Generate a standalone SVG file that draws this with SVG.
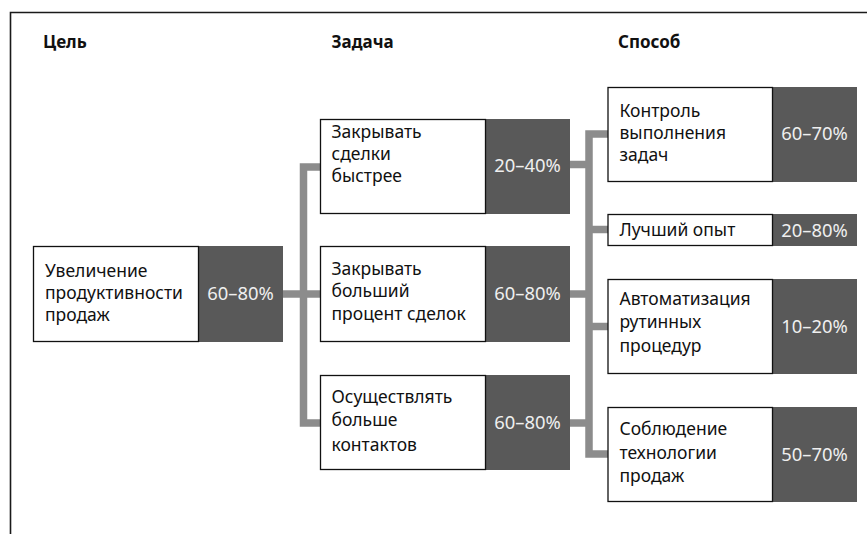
<svg xmlns="http://www.w3.org/2000/svg" width="867" height="534" viewBox="0 0 867 534">
<style>
text{font-family:"Noto Sans","Open Sans","DejaVu Sans",sans-serif;font-size:17.5px;fill:#111}
.h{font-weight:bold;font-size:17px}
.p{fill:#efefef;text-anchor:middle;font-size:18.4px}
.w{fill:#fff;stroke:#111;stroke-width:1.3}
.d{fill:#595959}
.c{fill:none;stroke:#8c8c8c;stroke-width:7.5;stroke-linejoin:miter}
.f{fill:none;stroke:#1a1a1a;stroke-width:1.6}
</style>
<rect width="867" height="534" fill="#fff"/>
<path class="f" d="M10.5 534 V12.5 H867"/>
<g id="headers">
<text class="h" x="43" y="48">Цель</text>
<text class="h" x="331.5" y="48">Задача</text>
<text class="h" x="618" y="48">Способ</text>
</g>
<g id="connectors">
<path class="c" d="M283 294 H320"/>
<path class="c" d="M320 167 H303.5 V423 H320"/>
<path class="c" d="M570 164.5 H589"/>
<path class="c" d="M570 294 H589"/>
<path class="c" d="M570 423 H589"/>
<path class="c" d="M608 134 H589 V454 H608"/>
<path class="c" d="M589 229.5 H608"/>
<path class="c" d="M589 326.5 H608"/>
</g>
<g id="goal">
<rect class="d" x="198" y="246" width="85" height="96"/>
<rect class="w" x="33.5" y="246.5" width="165" height="95"/>
<text x="45" y="276.5">Увеличение</text>
<text x="45" y="298.5">продуктивности</text>
<text x="45" y="320.5">продаж</text>
<text class="p" x="240.5" y="299.5">60–80%</text>
</g>
<g id="task1">
<rect class="d" x="485" y="119" width="85" height="95"/>
<rect class="w" x="320.5" y="119.5" width="165" height="94"/>
<text x="331.5" y="137.5">Закрывать</text>
<text x="331.5" y="159.5">сделки</text>
<text x="331.5" y="181.5">быстрее</text>
<text class="p" x="527.5" y="171.5">20–40%</text>
</g>
<g id="task2">
<rect class="d" x="485" y="246" width="85" height="96"/>
<rect class="w" x="320.5" y="246.5" width="165" height="95"/>
<text x="331.5" y="275">Закрывать</text>
<text x="331.5" y="297">больший</text>
<text x="331.5" y="320">процент сделок</text>
<text class="p" x="527.5" y="299.5">60–80%</text>
</g>
<g id="task3">
<rect class="d" x="485" y="375" width="85" height="95"/>
<rect class="w" x="320.5" y="375.5" width="165" height="94"/>
<text x="331.5" y="403">Осуществлять</text>
<text x="331.5" y="425.5">больше</text>
<text x="331.5" y="450.5">контактов</text>
<text class="p" x="527.5" y="428.5">60–80%</text>
</g>
<g id="way1">
<rect class="d" x="772" y="87" width="85" height="95"/>
<rect class="w" x="608" y="87.5" width="164.5" height="94"/>
<text x="619.5" y="116.5">Контроль</text>
<text x="619.5" y="138.5">выполнения</text>
<text x="619.5" y="160.5">задач</text>
<text class="p" x="814.5" y="139.5">60–70%</text>
</g>
<g id="way2">
<rect class="d" x="772" y="214" width="85" height="32"/>
<rect class="w" x="608" y="214.5" width="164.5" height="31"/>
<text x="619.5" y="236">Лучший опыт</text>
<text class="p" x="814.5" y="236.5">20–80%</text>
</g>
<g id="way3">
<rect class="d" x="772" y="279" width="85" height="95"/>
<rect class="w" x="608" y="279.5" width="164.5" height="94"/>
<text x="619.5" y="305">Автоматизация</text>
<text x="619.5" y="328">рутинных</text>
<text x="619.5" y="351.5">процедур</text>
<text class="p" x="814.5" y="332.5">10–20%</text>
</g>
<g id="way4">
<rect class="d" x="772" y="407" width="85" height="95"/>
<rect class="w" x="608" y="407.5" width="164.5" height="94"/>
<text x="619.5" y="435">Соблюдение</text>
<text x="619.5" y="459">технологии</text>
<text x="619.5" y="482">продаж</text>
<text class="p" x="814.5" y="460.5">50–70%</text>
</g>
</svg>
